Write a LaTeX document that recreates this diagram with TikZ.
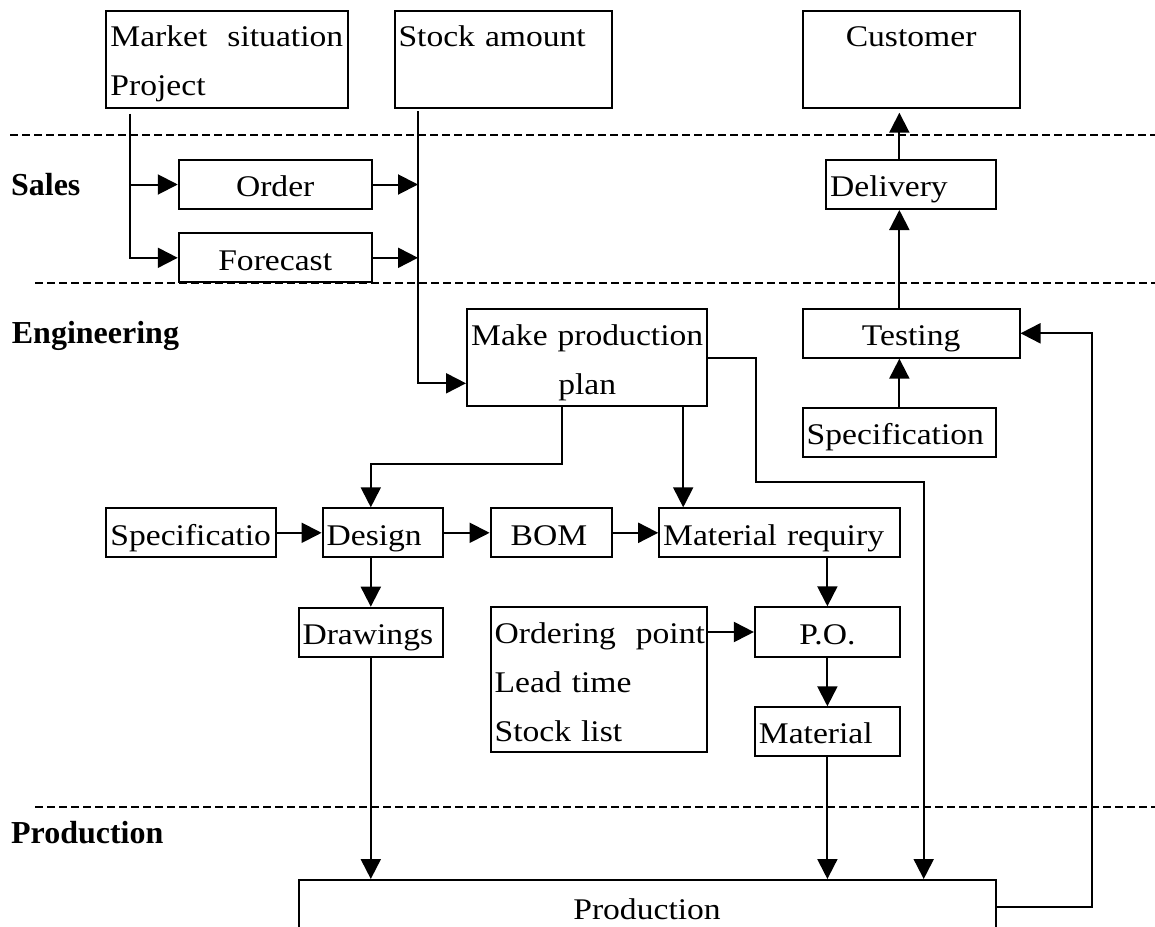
\documentclass[tikz,border=0pt]{standalone}
\usepackage{fontspec}
\setmainfont{Liberation Serif}[FakeStretch=1.12]
\newfontfamily\deptfont{Liberation Serif}
\usetikzlibrary{arrows.meta}
\hyphenpenalty=10000

\begin{document}
\begin{tikzpicture}[
            x=0.5pt, y=-0.5pt, % work in pixel steps, y going down
            every node/.style={font=\fontsize{15}{24.5}\selectfont},
            box/.style={draw, line width=1pt, inner xsep=2pt, inner ysep=0pt,
                        text height=12.2pt, text depth=0pt, align=left}, % boxes of the flow
            flow/.style={line width=1pt, -{Triangle[length=10pt,width=10pt]}}, % arrows
            lane/.style={line width=1pt, dash pattern=on 4pt off 2pt}, % department borders
            dept/.style={anchor=base west, inner sep=0pt, font=\fontsize{16}{24.5}\deptfont\bfseries}
            ]
        \useasboundingbox (0,0) rectangle (1155,926);
        \clip (0,0) rectangle (1155,926);
        \fill[white] (0,0) rectangle (1155,926);

                % department borders and names
                \draw[lane] (10,135) -- (1155,135);
                \draw[lane] (35,283.3) -- (1155,283.3);
                \draw[lane] (35,806.7) -- (1155,806.7);
                \node[dept] (sales) at (10.7,195) {Sales};
                \node[dept] (eng) at (11.5,343.3) {Engineering};
                \node[dept] (prod) at (10.7,843.3) {Production};

                % inputs on top
                \node[box, text width=116.55pt, minimum height=48.5pt, text depth=24.5pt] (market) at (227,59.2) {Market~~situation\\Project};
                \node[box, text width=104.6pt, minimum height=48.5pt, text depth=24.5pt] (stock) at (503.1,59.2) {Stock~amount};
                \node[box, align=center, text width=104.4pt, minimum height=48.5pt, text depth=24.5pt] (customer) at (911.1,59.2) {Customer};

                % sales
                \node[box, align=center, text width=92.45pt, minimum height=24.5pt] (order) at (275.2,184.5) {Order};
                \node[box, align=center, text width=92.45pt, minimum height=24.5pt] (forecast) at (275.2,257.8) {Forecast};
                \node[box, text width=80.9pt, minimum height=24.5pt] (delivery) at (911.1,184.5) {Delivery};

                % engineering
                \node[box, align=center, text width=116.2pt, minimum height=48.2pt, text depth=24.5pt] (plan) at (587.2,357.5) {Make~production\\plan};
                \node[box, align=center, text width=104.4pt, minimum height=24.35pt] (testing) at (911.1,333.3) {Testing};
                \node[box, text width=92.65pt, minimum height=24.65pt] (specr) at (899.35,432.7) {Specification};
                \node[box, text width=80.55pt, minimum height=24.5pt] (specl) at (190.95,532.8) {Specificatio};
                \node[box, text width=56.25pt, minimum height=24.5pt] (design) at (382.85,532.8) {Design};
                \node[box, text width=56.55pt, minimum height=24.5pt] (bom) at (551.15,532.8) {\hspace*{8pt}BOM};
                \node[box, text width=116.35pt, minimum height=24.5pt] (matreq) at (779.55,532.8) {Material~requiry};
                \node[box, text width=68.3pt, minimum height=24.5pt] (drawings) at (370.8,632.2) {Drawings};
                \node[box, text width=104.4pt, minimum height=72.5pt, text depth=49pt] (ordering) at (599,679.8) {Ordering~~point\\Lead~time\\Stock~list};
                \node[box, align=center, text width=68.5pt, minimum height=24.7pt] (po) at (827.4,632) {P.O.};
                \node[box, text width=68.5pt, minimum height=24.35pt] (material) at (827.4,731.65) {Material};

                % production, open at the bottom edge
                \node[box, align=center, text width=344.55pt, minimum height=27pt] (production) at (647.05,907) {Production};

                % sales flow
                \coordinate (mk) at ([xshift=12.25pt,yshift=-2.6pt]market.south west);
                \coordinate (stockout) at ([xshift=12.25pt,yshift=-1.2pt]stock.south west);
                \draw[flow] (mk) |- (order.west);
                \draw[flow] (mk) |- (forecast.west);
                \draw[flow] (order.east) -- (order.east -| stockout);
                \draw[flow] (forecast.east) -- (forecast.east -| stockout);
                \draw[flow] (stockout) |- ([yshift=-12.9pt]plan.west);

                % testing up to the customer
                \draw[flow, shorten >=2pt] (delivery.north -| specr.north) -- (customer.south -| specr.north);
                \draw[flow] (testing.north -| specr.north) -- (delivery.south -| specr.north);
                \draw[flow] (specr.north) -- (testing.south -| specr.north);

                % engineering flow
                \draw[flow] ([xshift=-12.4pt]plan.south) -- ++(0,57.6) -| (design.north -| drawings.north);
                \draw[flow] ([xshift=48pt]plan.south) -- ([xshift=48pt]plan.south |- matreq.north);
                \draw[flow] (plan.east) -- ++(47.1,0) -- ++(0,124.8) -| ([xshift=-36.45pt]production.north east);
                \draw[flow] (specl) -- (design);
                \draw[flow] (design) -- (bom);
                \draw[flow] (bom) -- (matreq);
                \draw[flow] (matreq.south -| po.north) -- (po.north);
                \draw[flow] (po.west -| ordering.east) -- (po.west);
                \draw[flow] (po) -- (material);
                \draw[flow] (design.south -| drawings.north) -- (drawings.north);

                % into production and back to testing
                \draw[flow] (drawings.south) -- (drawings.south |- production.north);
                \draw[flow] (material.south) -- (material.south |- production.north);
                \draw[flow] (production.east) -- ++(95.3,0) |- (testing.east);

            \end{tikzpicture}
\end{document}
